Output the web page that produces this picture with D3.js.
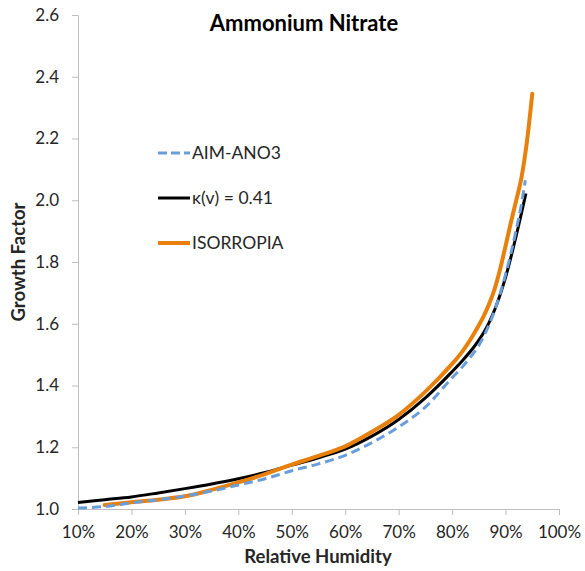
<!DOCTYPE html>
<html>
<head>
<meta charset="utf-8">
<script src="https://cdn.jsdelivr.net/npm/d3@7"></script>
<style>
  body { margin: 0; background: #fff; }
  text { font-family: Lato, "Open Sans", sans-serif; }
</style>
</head>
<body>
<div id="chart"></div>
<script>
// values (RH in %, growth factor)
var aimRH  = [10, 15, 20, 25, 30, 35, 40, 45, 50, 55, 60, 65, 70, 75, 80, 82, 84, 85, 86, 87, 88, 89, 90, 91, 92, 93, 93.7];
var aimGF  = [1.003, 1.008, 1.020, 1.030, 1.042, 1.058, 1.078, 1.098, 1.124, 1.146, 1.174, 1.215, 1.266, 1.330, 1.425, 1.462, 1.505, 1.530, 1.562, 1.600, 1.645, 1.698, 1.760, 1.828, 1.905, 1.990, 2.065];

var kapRH  = [10, 15, 20, 25, 30, 35, 40, 45, 50, 55, 60, 65, 70, 75, 80, 82, 84, 85, 86, 87, 88, 89, 90, 91, 92, 93, 93.8];
var kapGF  = [1.021, 1.030, 1.039, 1.052, 1.066, 1.081, 1.098, 1.118, 1.142, 1.166, 1.194, 1.236, 1.290, 1.360, 1.445, 1.482, 1.523, 1.547, 1.574, 1.607, 1.647, 1.695, 1.750, 1.815, 1.885, 1.960, 2.022];

var isoRH  = [15, 20, 25, 30, 35, 40, 45, 50, 55, 60, 65, 70, 75, 80, 81, 82, 83, 84, 85, 86, 87, 88, 89, 90, 91, 92, 93, 94, 95];
var isoGF  = [1.013, 1.022, 1.030, 1.041, 1.062, 1.086, 1.113, 1.144, 1.172, 1.203, 1.250, 1.305, 1.380, 1.470, 1.490, 1.512, 1.537, 1.565, 1.595, 1.628, 1.667, 1.715, 1.778, 1.852, 1.928, 2.000, 2.075, 2.190, 2.345];

var xTicks = [10, 20, 30, 40, 50, 60, 70, 80, 90, 100];
var yTicks = [1.0, 1.2, 1.4, 1.6, 1.8, 2.0, 2.2, 2.4, 2.6];

var seriesNames = ["AIM-ANO3", "\u03ba(v) = 0.41", "ISORROPIA"];

var width = 585, height = 571;
var margin = {top: 15, right: 26, bottom: 62, left: 78};

var svg = d3.select("#chart").append("svg")
    .attr("width", width)
    .attr("height", height);

var x = d3.scaleLinear().domain([10, 100]).range([margin.left, width - margin.right]);
var y = d3.scaleLinear().domain([1.0, 2.6]).range([height - margin.bottom, margin.top]);

// axes
var xAxis = svg.append("g")
    .attr("transform", "translate(0," + y(1.0) + ")")
    .call(d3.axisBottom(x).tickValues(xTicks).tickSize(6).tickSizeOuter(0)
      .tickFormat(function(d) { return d + "%"; }));

var yAxis = svg.append("g")
    .attr("transform", "translate(" + x(10) + ",0)")
    .call(d3.axisLeft(y).tickValues(yTicks).tickSize(6).tickSizeOuter(0)
      .tickFormat(d3.format(".1f")));

[xAxis, yAxis].forEach(function(g) {
  g.select(".domain").attr("stroke", "#bfbfbf");
  g.selectAll(".tick line").attr("stroke", "#bfbfbf");
  g.selectAll(".tick text")
    .attr("fill", "#262626")
    .style("font-size", "17px")
    .style("font-family", "Lato, 'Open Sans', sans-serif");
});
xAxis.selectAll(".tick text").attr("y", 14).attr("dy", "0.9em");
yAxis.selectAll(".tick text").attr("x", -19);

// lines
var line = d3.line()
    .x(function(d) { return x(d[0]); })
    .y(function(d) { return y(d[1]); })
    .curve(d3.curveMonotoneX);

function pairs(a, b) { return a.map(function(v, i) { return [v, b[i]]; }); }

svg.append("path")
    .datum(pairs(kapRH, kapGF))
    .attr("fill", "none")
    .attr("stroke", "#000")
    .attr("stroke-width", 3)
    .attr("d", line);

svg.append("path")
    .datum(pairs(isoRH, isoGF))
    .attr("fill", "none")
    .attr("stroke", "#e8800e")
    .attr("stroke-width", 4)
    .attr("stroke-linecap", "round")
    .attr("d", line);

svg.append("path")
    .datum(pairs(aimRH, aimGF))
    .attr("fill", "none")
    .attr("stroke", "#6a9edb")
    .attr("stroke-width", 3)
    .attr("stroke-dasharray", "9,5")
    .attr("d", line);

// legend
var legend = [
  {name: seriesNames[0], color: "#6a9edb", dash: "9,4", w: 3, y: 153},
  {name: seriesNames[1], color: "#000", dash: null, w: 3, y: 198},
  {name: seriesNames[2], color: "#e8800e", dash: null, w: 4, y: 243}
];
var lg = svg.append("g");
legend.forEach(function(d) {
  lg.append("line")
    .attr("x1", 158).attr("x2", 190)
    .attr("y1", d.y).attr("y2", d.y)
    .attr("stroke", d.color)
    .attr("stroke-width", d.w)
    .attr("stroke-dasharray", d.dash);
  lg.append("text")
    .attr("x", 192).attr("y", d.y + 6)
    .attr("fill", "#262626")
    .style("font-size", "17.5px")
    .text(d.name);
});

// titles
svg.append("text")
    .attr("x", 304).attr("y", 31)
    .attr("text-anchor", "middle")
    .style("font-size", "22px")
    .style("font-weight", "bold")
    .text("Ammonium Nitrate");

svg.append("text")
    .attr("x", 318).attr("y", 563)
    .attr("text-anchor", "middle")
    .style("font-size", "18.5px")
    .style("font-weight", "bold")
    .attr("fill", "#262626")
    .text("Relative Humidity");

svg.append("text")
    .attr("transform", "translate(25,262) rotate(-90)")
    .attr("text-anchor", "middle")
    .style("font-size", "18.5px")
    .style("font-weight", "bold")
    .attr("fill", "#262626")
    .text("Growth Factor");
</script>
</body>
</html>
